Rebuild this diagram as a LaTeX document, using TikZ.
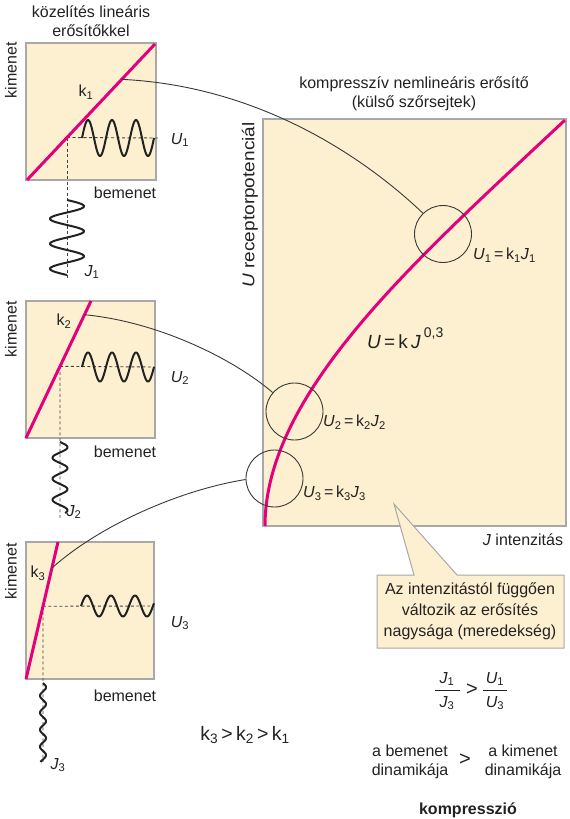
\documentclass[tikz,border=0pt]{standalone}
\usepackage{fontspec}
\setmainfont{Liberation Sans}
\usetikzlibrary{calc}
\definecolor{cream}{HTML}{FDF0D0}
\definecolor{mag}{HTML}{E4007C}
\definecolor{bord}{HTML}{A8A8A8}
\definecolor{ink}{HTML}{222222}
\begin{document}
\begin{tikzpicture}[x=1pt,y=-1pt,
 panel/.style={draw=bord,fill=cream,line width=1.2pt},
 kline/.style={draw=mag,line width=3pt},
 wave/.style={draw=ink,line width=2pt,line join=round},
 guide/.style={draw=ink!85,dashed,dash pattern=on 3pt off 2.5pt,line width=0.9pt},
 conn/.style={draw=ink!90,line width=0.9pt},
 ring/.style={circle,draw=ink!90,line width=0.9pt,minimum size=57pt,inner sep=0pt},
 lbl/.style={font=\fontsize{16}{19}\selectfont,text=ink,inner sep=0pt},
 eq/.style={font=\fontsize{16}{19}\selectfont,text=ink,inner sep=0pt,anchor=west},
]
\useasboundingbox (0,0) rectangle (570,819);

% ---------- panel 1 ----------
\draw[panel] (26,43) rectangle (156,180);
\coordinate (l1s) at (27,180);
\coordinate (l1e) at (155,44);
\coordinate (d1) at ($(l1s)!0.3125!(l1e)$);
\draw[guide] (d1) -- (160,138);
\draw[guide] (d1) -- (67,278);
\draw[wave] plot[domain=82:154,samples=100] (\x,{138-18*sin(15*(\x-82))});
\draw[wave] plot[domain=200:275,samples=100] ({67+17*sin(14.4*(\x-200))},\x);
\draw[kline] (l1s) -- (l1e);
\node[lbl] (k1) at (86,92) {k\textsubscript{1}};
\node[lbl] (u1) at (180,140) {\textit{U}\textsubscript{1}};
\node[lbl] (bm1) at (125,193) {bemenet};
\node[lbl] (j1) at (92,272) {\textit{J}\textsubscript{1}};
\node[lbl,rotate=90] (km1) at (11,70) {kimenet};
\node[lbl,align=center] (tl) at (91,21.5) {közelítés lineáris\\erősítőkkel};

% ---------- panel 2 ----------
\draw[panel] (26,301) rectangle (155,438);
\coordinate (l2s) at (26,438);
\coordinate (l2e) at (91,301);
\coordinate (d2) at ($(l2s)!0.523!(l2e)$);
\draw[guide] (d2) -- (155,367);
\draw[guide] (d2) -- (60,520);
\draw[wave] plot[domain=82:154,samples=100] (\x,{367-14.5*sin(15*(\x-82))});
\draw[wave] plot[domain=442:513,samples=100] ({60+7.5*sin(17.14*(\x-442))},\x);
\draw[kline] (l2s) -- (l2e);
\node[lbl] (k2) at (64,321) {k\textsubscript{2}};
\node[lbl] (u2) at (180,378) {\textit{U}\textsubscript{2}};
\node[lbl] (bm2) at (125,452) {bemenet};
\node[lbl] (j2) at (74,512) {\textit{J}\textsubscript{2}};
\node[lbl,rotate=90] (km2) at (11,329) {kimenet};

% ---------- panel 3 ----------
\draw[panel] (26,542) rectangle (154,679);
\coordinate (l3s) at (26,679);
\coordinate (l3e) at (58,542);
\coordinate (d3) at ($(l3s)!0.531!(l3e)$);
\draw[guide] (d3) -- (154,606);
\draw[guide] (d3) -- (43,762);
\draw[wave] plot[domain=81:154,samples=100] (\x,{606-10.5*sin(15*(\x-81))});
\draw[wave] plot[domain=683:762,samples=120] ({43+3*sin(21.2*(\x-683))},\x);
\draw[kline] (l3s) -- (l3e);
\node[lbl] (k3) at (38,573) {k\textsubscript{3}};
\node[lbl] (u3) at (180,623) {\textit{U}\textsubscript{3}};
\node[lbl] (bm3) at (125,696) {bemenet};
\node[lbl] (j3) at (58,765) {\textit{J}\textsubscript{3}};
\node[lbl,rotate=90] (km3) at (11,571) {kimenet};

% ---------- big panel ----------
\draw[panel] (263,119) rectangle (566,526);
\node[lbl,align=center] (tb) at (414,93.5) {kompresszív nemlineáris erősítő\\(külső szőrsejtek)};
\node[lbl,rotate=90] (ya) at (250,205) {\scalebox{1.12}[1]{\fontsize{17}{19}\selectfont\textit{U} receptorpotenciál}};
\node[lbl] (xa) at (523,540) {\textit{J} intenzitás};
\draw[kline,line join=round] plot[domain=0:1,samples=90] ({265+300*\x*\x*(1.56-0.56*\x)},{526-406*\x});

\node[ring] (c1) at (443,234) {};
\node[ring] (c2) at (294.5,411.5) {};
\node[ring] (c3) at (274.5,478.5) {};

\node[eq] (e1) at (473,255) {\textit{U}\textsubscript{1}\,=\,k\textsubscript{1}\textit{J}\textsubscript{1}};
\node[eq] (e2) at (323,422) {\textit{U}\textsubscript{2}\,=\,k\textsubscript{2}\textit{J}\textsubscript{2}};
\node[eq] (e3) at (303,493) {\textit{U}\textsubscript{3}\,=\,k\textsubscript{3}\textit{J}\textsubscript{3}};
\node[eq,font=\fontsize{19}{22}\selectfont] (ef) at (367,338) {\textit{U}\,=\,k\,\textit{J}\,\raisebox{0.55em}{\fontsize{14}{16}\selectfont 0,3}};

% ---------- connectors ----------
\coordinate (a1) at ($(l1s)!0.74!(l1e)$);
\coordinate (a2) at ($(l2s)!0.9!(l2e)$);
\coordinate (a3) at ($(l3s)!0.81!(l3e)$);
\draw[conn] (a1) .. controls (260,86) and (365,158) .. (c1.134);
\draw[conn] (a2) .. controls (160,322) and (235,360) .. (c2.139);
\draw[conn] (a3) .. controls (100,525) and (180,490) .. (c3.182);

% ---------- callout ----------
\draw[panel,line width=1pt] (377,575) -- (414,575) -- (394,504) -- (457,575) -- (564,575) -- (564,648) -- (377,648) -- cycle;
\node[lbl,align=center,font=\fontsize{16}{21}\selectfont] (co) at (470,611) {Az intenzitástól függően\\változik az erősítés\\nagysága (meredekség)};

% ---------- bottom texts ----------
\node[lbl] (fj1) at (447,679) {\textit{J}\textsubscript{1}};
\node[lbl] (fj3) at (447,703) {\textit{J}\textsubscript{3}};
\draw[draw=ink,line width=0.8pt] (435,690) -- (460,690);
\node[lbl,font=\fontsize{20}{22}\selectfont] (gt1) at (472,690) {>};
\node[lbl] (fu1) at (495,679) {\textit{U}\textsubscript{1}};
\node[lbl] (fu3) at (495,703) {\textit{U}\textsubscript{3}};
\draw[draw=ink,line width=0.8pt] (483,690) -- (507,690);

\node[lbl,font=\fontsize{19.5}{22}\selectfont] (kk) at (245,735) {k\textsubscript{3}\,>\,k\textsubscript{2}\,>\,k\textsubscript{1}};

\node[lbl,align=center] (bd) at (410,761.5) {a bemenet\\dinamikája};
\node[lbl,font=\fontsize{20}{22}\selectfont] (gt2) at (465,760) {>};
\node[lbl,align=center] (kd) at (523,761.5) {a kimenet\\dinamikája};
\node[lbl,font=\bfseries\fontsize{16}{19}\selectfont] (cp) at (468,810) {kompresszió};
\end{tikzpicture}
\end{document}
